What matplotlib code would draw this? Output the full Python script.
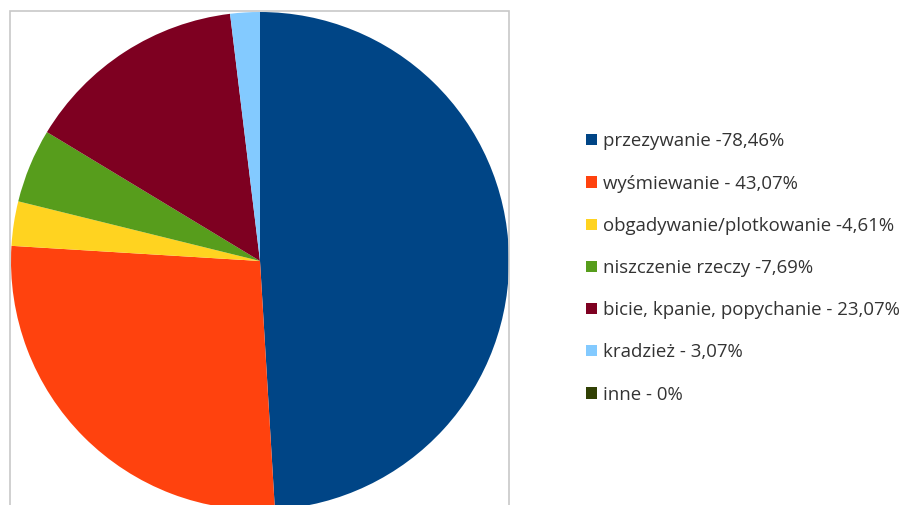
import matplotlib.pyplot as plt
from matplotlib.patches import Rectangle

labels = ["przezywanie -78,46%", "wyśmiewanie - 43,07%", "obgadywanie/plotkowanie -4,61%",
          "niszczenie rzeczy -7,69%", "bicie, kpanie, popychanie - 23,07%", "kradzież - 3,07%",
          "inne - 0%"]
values = [78.46, 43.07, 4.61, 7.69, 23.07, 3.07, 0]
colors = ["#004586", "#ff420e", "#ffd320", "#579d1c", "#7e0021", "#83caff", "#314004"]

W, H = 905, 505
fig = plt.figure(figsize=(W / 100, H / 100), dpi=100)

# ramka wykresu
fig.patches.append(Rectangle((10 / W, -0.02), 499 / W, (H - 11) / H + 0.02,
                             transform=fig.transFigure, fill=False,
                             edgecolor="#c8c8c8", linewidth=1.2))

cx, cy, r = 260, 261, 249
ax = fig.add_axes([(cx - r) / W, (H - cy - r) / H, 2 * r / W, 2 * r / H])
wedges, _ = ax.pie(values, colors=colors, startangle=90, counterclock=False,
                   radius=1, wedgeprops=dict(linewidth=0))
ax.set_xlim(-1, 1)
ax.set_ylim(-1, 1)
ax.axis("off")

fig.legend(wedges, labels, loc="upper left", bbox_to_anchor=(579 / W, 1 - 125 / H),
           frameon=False, prop={"family": "Open Sans", "size": 13.4},
           handlelength=0.55, handleheight=0.55, handletextpad=0.35,
           labelspacing=1.3, borderaxespad=0, labelcolor="#333333")

fig.savefig("out.png", dpi=100)
